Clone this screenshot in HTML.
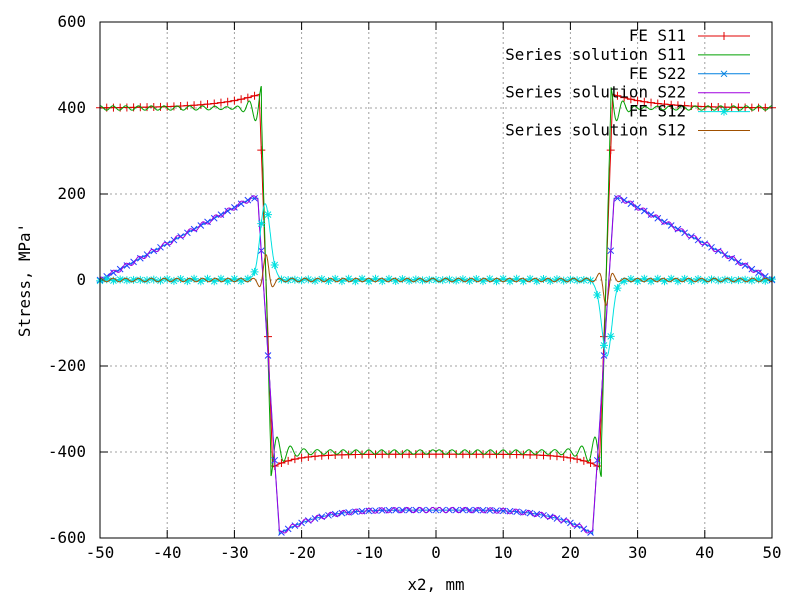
<!DOCTYPE html>
<html><head><meta charset="utf-8"><style>
body{margin:0;background:#fff}
svg text{font-family:"DejaVu Sans Mono","Liberation Mono",monospace;font-size:15.8px;fill:#000}
</style></head><body>
<svg id="s" width="800" height="600" xmlns="http://www.w3.org/2000/svg">
<rect width="800" height="600" fill="#fff"/>
<g id="grid" stroke="#a0a0a0" stroke-dasharray="2,3" stroke-width="1"></g>
<g id="ticks" stroke="#000"></g>
<g id="labels"></g>
<g id="curves" fill="none" stroke-width="1"></g>
<rect x="100" y="22" width="672" height="516" fill="none" stroke="#000"/>
<g id="leg"></g>
<text x="436" y="590" text-anchor="middle">x2, mm</text>
<text transform="translate(30,280) rotate(-90)" text-anchor="middle">Stress, MPa'</text>
</svg>
<script>
const X=x=>436+6.72*x, Y=v=>280-0.43*v;
const ns="http://www.w3.org/2000/svg";
function el(p,t,a,txt){const e=document.createElementNS(ns,t);for(const k in a)e.setAttribute(k,a[k]);if(txt!=null)e.textContent=txt;document.getElementById(p).appendChild(e);return e;}
for(let x=-40;x<=40;x+=10){el('grid','line',{x1:X(x),x2:X(x),y1:22,y2:538});}
for(let v=-400;v<=400;v+=200){el('grid','line',{x1:100,x2:772,y1:Y(v),y2:Y(v)});}
for(let x=-50;x<=50;x+=10){el('ticks','line',{x1:X(x),x2:X(x),y1:538,y2:530});el('ticks','line',{x1:X(x),x2:X(x),y1:22,y2:30});el('labels','text',{x:X(x),y:558,'text-anchor':'middle'},x);}
for(let v=-600;v<=600;v+=200){el('ticks','line',{x1:100,x2:108,y1:Y(v),y2:Y(v)});el('ticks','line',{x1:772,x2:764,y1:Y(v),y2:Y(v)});el('labels','text',{x:86,y:Y(v)+5,'text-anchor':'end'},v);}
function s11(x){const a=Math.abs(x);let v;
 if(a>=26.3)v=400+32*Math.exp(-(a-26.3)/6);
 else if(a<=24.3)v=-405-30*Math.exp(-(24.3-a)/3.5);
 else{const t=(a-24.3)/2;v=-435+t*867;}
 return v;}
function s11s(x){const a=Math.abs(x);let v;
 if(a>=26)v=400;else if(a<=24.6)v=-400;else v=-400+(a-24.6)/1.4*800;
 const d=Math.abs(a-25.3);if(d>0.7){v+=(a>25.3?1:-1)*55*Math.exp(-(d-0.7)/1.8)*Math.cos(2*Math.PI*(d-0.7)/1.9)+5*Math.sin(a*3.3);}
 return v;}
function s22(x,r){const a=Math.abs(x);let v;
 if(a>=27.5)v=190*(50-a)/22.5;
 else if(a>=26.5)v=190;
 else if(a<=23.3)v=-535-55*Math.pow(a/23.3,4);
 else{const t=(a-23.3)/3.2;v=-590+t*780;}
 if(r)v+=6*Math.sin(a*3.3);
 return v;}
function s12(x){const a=Math.abs(x),sg=x<0?1:-1;const d=a-25.4;return sg*(175*Math.exp(-d*d/1.2)+3*Math.sin(a*3));}
function s12s(x){const a=Math.abs(x),sg=x<0?1:-1;const d=a-25.3;return sg*(55*Math.exp(-d*d/0.8)*Math.cos(d*2.4)+4*Math.sin(a*3.3));}
function path(f,col,step){let d='';for(let x=-50;x<=50.001;x+=step){d+=(d?'L':'M')+X(x).toFixed(1)+','+Y(f(x)).toFixed(1);}el('curves','path',{d:d,stroke:col});}
function marks(f,col,type,step){let g='';for(let x=-50;x<=50.001;x+=step){const px=X(x),py=Y(f(x));
 if(type=='+')g+=`M${px-4},${py}h8M${px},${py-4}v8`;
 else if(type=='x')g+=`M${px-3},${py-3}l6,6M${px-3},${py+3}l6,-6`;
 else g+=`M${px-4},${py}h8M${px},${py-4}v8M${px-3},${py-3}l6,6M${px-3},${py+3}l6,-6`;}
 el('curves','path',{d:g,stroke:col});}
const fe11=x=>s11(x),fe22=x=>s22(x,false),fe12=x=>s12(x);
path(fe11,'#e00000',0.05);marks(fe11,'#e00000','+',1);
path(s11s,'#00a000',0.05);
path(fe22,'#0080e0',0.05);marks(fe22,'#2040ff','x',1);
path(x=>s22(x,true),'#a000e0',0.05);
path(fe12,'#00e0e0',0.05);marks(fe12,'#00e0e0','*',1);
path(s12s,'#a05000',0.05);
const L=[['FE S11','#e00000','+'],['Series solution S11','#00a000'],['FE S22','#0080e0','x'],['Series solution S22','#a000e0'],['FE S12','#00e0e0','*'],['Series solution S12','#a05000']];
L.forEach((l,i)=>{const y=36+i*18.9;el('leg','text',{x:686,y:y+5,'text-anchor':'end'},l[0]);el('leg','line',{x1:698,x2:750,y1:y,y2:y,stroke:l[1]});
 if(l[2]){const g=l[2]=='+'?`M724,${y-4}v8`:l[2]=='x'?`M721,${y-3}l6,6M721,${y+3}l6,-6`:`M720,${y}h8M724,${y-4}v8M721,${y-3}l6,6M721,${y+3}l6,-6`;el('leg','path',{d:g,stroke:l[1],fill:'none'});}});
</script>
</body></html>
